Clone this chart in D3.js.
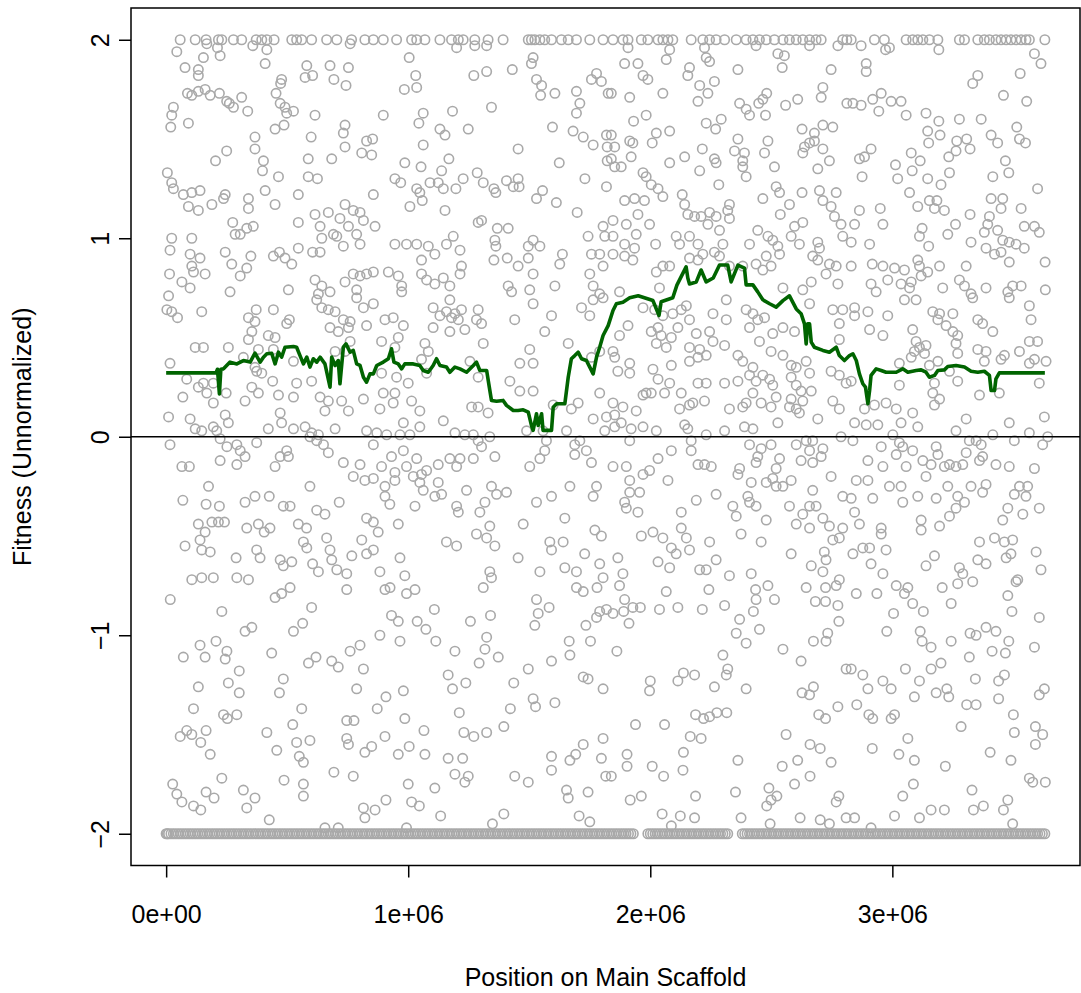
<!DOCTYPE html>
<html><head><meta charset="utf-8">
<script src="https://cdn.jsdelivr.net/npm/d3@7"></script>
<style>body{margin:0;background:#fff;} text{font-family:"Liberation Sans",Arial,Helvetica,sans-serif;}</style>
</head><body><svg id="c" width="1081" height="993"></svg>
<script>
// ---------- data ----------
const xTicks = [0, 1e6, 2e6, 3e6];
const xTickLabels = ["0e+00", "1e+06", "2e+06", "3e+06"];
const yTicks = [-2, -1, 0, 1, 2];
const xTitle = "Position on Main Scaffold";
const yTitle = "Fitness (Unnormalized)";
const xLimitsMb = [0, 3.63];
const yLimits = [-2, 2];

// positions (Mb) of points whose fitness is capped at +2
const capTopMb = [0.058,0.120,0.165,0.216,0.230,0.278,0.312,0.372,0.395,0.416,0.446,0.519,0.539,0.560,0.601,0.663,0.705,0.766,0.821,
0.856,0.897,0.952,1.014,1.035,1.069,1.131,1.179,1.207,1.227,1.275,1.330,1.392,1.496,1.509,1.523,1.544,1.564,1.592,1.633,1.661,1.695,1.750,1.805,
1.846,1.887,1.908,1.963,1.990,2.032,2.052,2.073,2.093,2.169,2.217,2.245,2.272,2.307,2.355,2.396,2.424,2.451,2.479,2.513,2.548,2.575,2.603,2.630,2.658,2.685,2.706,2.795,2.812,
2.830,2.926,2.967,3.057,3.084,3.105,3.126,3.153,3.188,3.277,3.298,3.353,3.380,3.401,3.428,3.449,3.470,3.490,3.511,3.532,3.552,3.566,3.63];

// positions (Mb) of points whose fitness is capped at -2
const capBottomMb = [0.00,0.01,0.03,0.05,0.06,0.08,0.10,0.12,0.13,0.15,0.17,0.19,0.21,0.22,0.24,0.26,0.28,0.29,0.31,0.33,0.35,0.37,0.38,0.40,0.42,0.44,0.45,0.47,0.49,0.51,0.53,0.54,0.56,0.58,0.60,0.61,0.63,0.65,0.67,0.69,0.70,0.72,0.74,0.76,0.77,0.79,0.81,0.83,0.85,0.86,0.88,0.90,0.92,0.93,0.95,0.97,0.99,1.01,1.02,1.04,1.06,1.08,1.09,1.11,1.13,1.15,1.17,1.18,1.20,1.22,1.24,1.25,1.27,1.29,1.31,1.33,1.34,1.36,1.38,1.40,1.41,1.43,1.45,1.47,1.49,1.50,1.52,1.54,1.56,1.57,1.59,1.61,1.63,1.65,1.66,1.68,1.70,1.72,1.73,1.75,1.77,1.79,1.81,1.82,1.84,1.86,1.88,1.89,1.91,1.93,
1.99,2.00,2.02,2.04,2.06,2.07,2.09,2.11,2.13,2.15,2.16,2.18,2.20,2.22,2.23,2.25,2.27,2.29,2.31,2.32,
2.38,2.40,2.42,2.43,2.45,2.47,2.49,2.50,2.52,2.54,2.56,2.58,2.59,2.61,2.63,2.65,2.66,2.68,2.70,2.72,2.74,2.75,2.77,2.79,2.81,2.82,2.84,2.86,2.88,2.90,2.91,2.93,2.95,2.97,2.98,3.00,3.02,3.04,3.06,3.07,3.09,3.11,3.13,3.14,3.16,3.18,3.20,3.22,3.23,3.25,3.27,3.29,3.30,3.32,3.34,3.36,3.38,3.39,3.41,3.43,3.45,3.46,3.48,3.50,3.52,3.54,3.55,3.57,3.59,3.61,3.63];
const capBottomMb2 = [0.005,0.02,0.04,0.07,0.09,0.11,0.14,0.16,0.18,0.20,0.23,0.25,0.27,0.30,0.32,0.34,0.36,0.39,0.41,0.43,0.46,0.48,0.50,0.52,0.55,0.57,0.59,0.62,0.64,0.66,0.68,0.71,0.73,0.75,0.78,0.80,0.82,0.84,0.87,0.89,0.91,0.94,0.96,0.98,1.00,1.03,1.05,1.07,1.10,1.12,1.14,1.16,1.19,1.21,1.23,1.26,1.28,1.30,1.32,1.35,1.37,1.39,1.42,1.44,1.46,1.48,1.51,1.53,1.55,1.58,1.60,1.62,1.64,1.67,1.69,1.71,1.74,1.76,1.78,1.80,1.83,1.85,1.87,1.90,1.92,
2.01,2.03,2.05,2.08,2.10,2.12,2.14,2.17,2.19,2.21,2.24,2.26,2.28,2.30,
2.39,2.41,2.44,2.46,2.48,2.51,2.53,2.55,2.57,2.60,2.62,2.64,2.67,2.69,2.71,2.73,2.76,2.78,2.80,2.83,2.85,2.87,2.89,2.92,2.94,2.96,2.99,3.01,3.03,3.05,3.08,3.10,3.12,3.15,3.17,3.19,3.21,3.24,3.26,3.28,3.31,3.33,3.35,3.37,3.40,3.42,3.44,3.47,3.49,3.51,3.53,3.56,3.58,3.60,3.62];

// [position Mb, fitness] points, by region
const upperA = [[0.044,1.94],[0.168,1.98],[0.212,1.96],[0.223,1.92],[0.154,1.91],[0.358,1.97],[0.416,1.95],[0.409,1.88],[0.760,1.98],
[0.078,1.86],[0.133,1.85],[0.133,1.82],[0.581,1.87],[0.574,1.81],[0.605,1.82],[0.677,1.87],[0.693,1.80],[0.753,1.86],[0.743,1.77],[0.477,1.80],[0.473,1.78],[0.454,1.73],[0.471,1.68],[0.491,1.66],[0.498,1.63],[0.526,1.64],[0.487,1.57],[0.450,1.55],
[0.030,1.66],[0.023,1.62],[0.019,1.56],[0.092,1.58],[0.088,1.73],[0.106,1.72],[0.133,1.74],[0.161,1.75],[0.182,1.72],[0.220,1.73],[0.250,1.69],[0.261,1.68],[0.278,1.66],[0.312,1.71],[0.337,1.64],[0.615,1.62],[0.739,1.57],[0.732,1.53],[0.599,1.51],[0.367,1.51],[0.367,1.45],[0.250,1.44],[0.204,1.39],[0.402,1.39],[0.398,1.34],[0.464,1.31],[0.587,1.40],[0.684,1.40],[0.739,1.46],[0.808,1.43],[0.828,1.49],[0.005,1.33],[0.023,1.28],[0.030,1.25],[0.071,1.22],[0.106,1.23],[0.140,1.24],[0.092,1.16],[0.133,1.14],[0.189,1.17],[0.244,1.22],[0.237,1.20],[0.340,1.20],[0.340,1.15],[0.409,1.24],[0.450,1.17],[0.546,1.22],[0.587,1.31],[0.625,1.30],[0.546,1.08],[0.615,1.12],[0.636,1.06],[0.670,1.13],[0.718,1.10],[0.739,1.17],[0.773,1.14],[0.801,1.13],[0.815,1.09],[0.753,1.06],[0.787,1.02],[0.691,1.02],[0.705,1.01],[0.732,0.96],[0.801,0.97],[0.643,1.00],[0.605,0.93],[0.636,0.93],[0.546,0.95],[0.275,1.08],[0.285,1.02],[0.306,1.02],[0.333,1.05],[0.360,1.06],[0.023,1.00],[0.106,1.00],[0.016,0.94],[0.099,0.92],[0.140,0.90],[0.106,0.86],[0.113,0.83],[0.161,0.82],[0.014,0.82],[0.065,0.78],[0.099,0.75],[0.010,0.71],[0.244,0.93],[0.271,0.87],[0.350,0.91],[0.333,0.85],[0.306,0.81],[0.443,0.91],[0.468,0.93],[0.491,0.90],[0.519,0.87],[0.264,0.73],[0.505,0.74],[0.615,0.79],[0.643,0.76],[0.677,0.73],[0.739,0.78],[0.773,0.82],[0.801,0.81],[0.828,0.82],[0.787,0.74],[0.629,0.72]];

const upperB = [[1.200,1.96],[1.275,1.97],[1.324,1.97],[1.004,1.91],[1.516,1.91],[1.509,1.88],[1.430,1.85],[1.324,1.84],[1.271,1.82],[1.031,1.82],[1.035,1.76],[0.984,1.75],[1.530,1.80],[1.551,1.77],[1.547,1.72],[1.606,1.73],[1.695,1.74],[1.709,1.68],[1.695,1.63],[1.757,1.80],[1.778,1.83],[1.798,1.79],[1.826,1.73],
[0.897,1.62],[1.062,1.63],[1.044,1.58],[1.183,1.64],[1.344,1.66],[1.131,1.55],[1.152,1.52],[1.248,1.55],[1.062,1.47],[0.853,1.50],[0.849,1.42],[1.596,1.56],[1.681,1.54],[1.723,1.51],[1.764,1.47],[1.819,1.52],[1.822,1.46],[1.822,1.39],[1.454,1.45],[1.624,1.38],[1.730,1.30],[1.819,1.26],
[1.168,1.40],[0.986,1.38],[1.053,1.36],[1.138,1.34],[0.945,1.30],[0.969,1.28],[1.035,1.25],[1.048,1.23],[1.090,1.28],[1.124,1.28],[1.145,1.25],[1.197,1.25],[1.227,1.30],[1.285,1.33],[1.310,1.28],[1.354,1.25],[1.362,1.23],[1.406,1.29],[1.434,1.26],[1.454,1.30],[1.458,1.26],[1.555,1.24],[1.530,1.20],[1.612,1.18],[1.007,1.16],[1.058,1.19],[1.152,1.14],[1.698,1.13],[0.856,1.22],
[0.863,1.06],[1.289,1.08],[1.303,1.09],[1.368,1.05],[1.413,1.05],[1.358,0.99],[1.362,0.96],[1.354,0.89],[1.409,0.90],[1.454,0.86],[1.496,0.96],[1.516,0.99],[1.544,0.96],[1.496,0.90],[1.516,0.82],[1.637,0.92],[1.626,0.87],[1.743,1.01],[1.805,1.06],[1.812,1.01],[1.757,0.92],[1.791,0.92],[1.805,0.86],[1.750,0.82],[0.945,0.97],[0.993,0.97],[1.035,0.97],[1.083,0.96],[1.110,0.92],[1.158,0.97],[1.186,1.01],[1.214,0.94],[1.055,0.89],[1.055,0.82],[1.076,0.79],[1.110,0.77],[1.145,0.80],[1.172,0.76],[1.220,0.86],[1.214,0.82],[0.918,0.83],[0.959,0.81],[0.856,0.83],[0.973,0.76],[0.973,0.73],[1.413,0.76],[1.427,0.73],[1.502,0.74],[1.606,0.76],[1.764,0.76],[1.791,0.72]];

const upperC = [[1.908,1.96],[2.080,1.95],[2.066,1.90],[2.224,1.96],[2.231,1.91],[2.245,1.89],[2.437,1.97],[2.527,1.93],[2.554,1.92],[2.658,1.97],[2.775,1.97],[1.894,1.88],[1.949,1.88],[1.970,1.82],[1.990,1.80],[2.162,1.86],[2.155,1.82],[2.265,1.79],[2.204,1.77],[2.238,1.73],[2.197,1.69],[2.362,1.85],[2.545,1.86],[2.747,1.85],[2.713,1.76],[2.706,1.71],[1.839,1.73],[1.915,1.71],[2.052,1.73],[2.369,1.68],[2.396,1.65],[2.410,1.62],[2.448,1.68],[2.465,1.70],[2.481,1.73],[2.476,1.62],[2.559,1.67],[2.609,1.70],[2.812,1.68],[1.983,1.62],[1.931,1.59],[2.231,1.58],[2.270,1.55],[2.293,1.60],[2.080,1.54],[2.025,1.53],[2.008,1.48],[1.915,1.49],[1.928,1.48],[1.839,1.52],[1.853,1.46],[1.839,1.40],[1.853,1.36],[1.880,1.36],[1.921,1.41],[2.142,1.41],[2.215,1.45],[2.265,1.40],[2.272,1.38],[2.204,1.34],[2.080,1.38],[2.348,1.44],[2.362,1.50],[2.389,1.43],[2.382,1.39],[2.382,1.36],[2.396,1.31],[2.472,1.43],[2.486,1.49],[2.513,1.36],[2.627,1.55],[2.678,1.53],[2.713,1.57],[2.754,1.56],[2.637,1.46],[2.630,1.43],[2.658,1.48],[2.678,1.49],[2.713,1.45],[2.740,1.39],[2.692,1.35],[1.970,1.33],[1.983,1.31],[2.004,1.27],[2.032,1.25],[2.052,1.21],[2.132,1.22],[2.283,1.27],[2.520,1.26],[2.534,1.23],[2.575,1.17],[2.627,1.23],[2.699,1.24],[2.768,1.23],[2.713,1.19],[2.747,1.16],[2.761,1.11],[2.788,1.07],[2.795,1.01],[2.465,1.20],[2.327,1.17],[2.320,1.14],[2.327,1.10],[2.537,1.12],[1.894,1.19],[1.935,1.20],[1.976,1.19],[1.949,1.12],[1.997,1.07],[1.846,1.09],[1.901,1.07],[1.942,1.02],[1.846,1.01],[1.894,0.97],[1.935,0.95],[1.846,0.92],[1.894,0.91],[1.928,0.89],[2.142,1.17],[2.155,1.12],[2.183,1.11],[2.210,1.11],[2.245,1.13],[2.272,1.11],[2.238,1.07],[2.286,1.04],[2.107,1.01],[2.121,0.97],[2.162,1.01],[2.197,0.97],[2.217,0.92],[2.162,0.90],[2.197,0.89],[2.265,0.93],[2.300,0.97],[2.286,0.91],[2.022,0.97],[2.444,1.04],[2.410,0.97],[2.486,1.01],[2.506,0.99],[2.527,0.96],[2.534,0.92],[2.479,0.91],[2.437,0.87],[2.465,0.84],[2.499,0.86],[2.582,1.01],[2.616,0.97],[2.630,1.08],[2.596,1.06],[2.692,0.98],[2.699,0.95],[2.671,0.91],[2.692,0.89],[2.740,0.87],[2.768,0.86],[2.726,0.82],[2.775,0.77],[2.025,0.83],[2.052,0.86],[2.080,0.86],[2.038,0.75],[2.327,0.86],[2.382,0.86],[2.548,0.75],[2.630,0.74],[2.665,0.78],[1.873,0.73]];

const upperD = [[2.871,1.97],[2.972,1.95],[2.988,1.96],[3.192,1.95],[2.892,1.88],[2.892,1.84],[3.587,1.93],[3.614,1.88],[3.353,1.82],[3.332,1.78],[3.528,1.83],[3.459,1.72],[3.555,1.69],
[2.837,1.68],[2.871,1.67],[2.919,1.70],[2.954,1.73],[2.944,1.64],[2.995,1.69],[3.036,1.69],[3.057,1.62],[3.139,1.63],[3.192,1.59],[3.146,1.54],[3.197,1.52],[3.150,1.48],[3.277,1.60],[3.367,1.60],[3.266,1.49],[3.307,1.50],[3.321,1.45],[3.263,1.44],[3.233,1.41],[3.408,1.52],[3.435,1.48],[3.514,1.56],[3.525,1.50],[3.550,1.48],[2.864,1.40],[2.885,1.41],[2.912,1.45],[2.875,1.31],[3.013,1.37],[3.022,1.30],[3.078,1.43],[3.115,1.39],[3.082,1.34],[3.146,1.30],[3.201,1.27],[3.236,1.33],[3.467,1.39],[3.415,1.31],[3.481,1.33],[3.600,1.25],[3.071,1.23],[3.105,1.16],[3.153,1.19],[3.184,1.19],[3.174,1.15],[3.215,1.14],[3.408,1.20],[3.456,1.20],[3.449,1.15],[3.532,1.15],[3.321,1.12],[2.864,1.14],[2.950,1.15],[2.961,1.07],[2.844,1.07],[2.830,0.98],[2.906,0.97],[3.123,1.05],[3.112,1.01],[3.150,0.96],[3.261,1.07],[3.229,1.02],[3.401,1.11],[3.394,1.07],[3.380,1.03],[3.435,1.04],[3.456,0.99],[3.483,0.98],[3.325,0.98],[3.387,0.95],[3.422,0.92],[3.449,0.93],[3.483,0.88],[3.511,0.97],[3.545,0.95],[3.545,1.06],[3.587,1.06],[3.607,1.03],[3.631,0.88],[2.830,0.86],[2.917,0.87],[2.961,0.86],[3.009,0.85],[3.050,0.84],[3.105,0.89],[3.112,0.86],[3.146,0.83],[3.119,0.81],[3.195,0.86],[3.305,0.86],[2.912,0.77],[2.933,0.73],[2.981,0.79],[3.036,0.77],[3.078,0.78],[3.071,0.75],[3.208,0.75],[3.277,0.79],[3.298,0.76],[3.325,0.72],[3.387,0.75],[3.477,0.73],[3.497,0.76],[3.532,0.76],[3.632,0.74]];

const middleA = [[0.003,0.64],[0.023,0.63],[0.047,0.60],[0.147,0.63],[0.340,0.60],[0.372,0.64],[0.367,0.58],[0.443,0.64],[0.498,0.57],[0.509,0.59],[0.354,0.53],[0.340,0.49],[0.422,0.51],[0.450,0.50],[0.120,0.45],[0.154,0.45],[0.257,0.45],[0.319,0.40],[0.381,0.44],[0.443,0.44],[0.622,0.69],[0.643,0.65],[0.670,0.64],[0.698,0.63],[0.732,0.59],[0.760,0.58],[0.677,0.55],[0.711,0.53],[0.753,0.55],[0.760,0.48],[0.698,0.43],[0.739,0.43],[0.787,0.70],[0.815,0.65],[0.828,0.56],
[0.016,0.37],[0.367,0.35],[0.374,0.33],[0.395,0.32],[0.526,0.38],[0.085,0.29],[0.133,0.25],[0.154,0.27],[0.195,0.27],[0.168,0.22],[0.069,0.20],[0.248,0.22],[0.195,0.17],[0.326,0.18],[0.354,0.25],[0.381,0.22],[0.440,0.28],[0.464,0.21],[0.526,0.20],[0.539,0.27],[0.601,0.28],[0.636,0.20],[0.670,0.18],[0.656,0.13],[0.725,0.18],[0.753,0.13],[0.815,0.19],[0.010,0.10],[0.099,0.09],[0.120,0.04],[0.147,0.03],[0.244,0.11],[0.257,0.07],[0.195,0.05],[0.209,0.03],[0.471,0.12],[0.477,0.07],[0.422,0.04],[0.526,0.04],[0.574,0.05],[0.601,0.02],[0.629,0.01],[0.698,0.04],[0.828,0.03],
[0.016,-0.04],[0.223,-0.01],[0.251,-0.05],[0.292,-0.04],[0.306,-0.07],[0.326,-0.10],[0.292,-0.14],[0.223,-0.12],[0.374,-0.03],[0.498,-0.07],[0.471,-0.10],[0.505,-0.10],[0.450,-0.15],[0.594,0.00],[0.622,-0.02],[0.650,-0.04],[0.670,-0.08],[0.732,-0.13],[0.801,-0.14],[0.773,-0.20],[0.821,-0.22],[0.065,-0.15],[0.096,-0.15],[0.175,-0.25],[0.594,-0.25],[0.069,-0.32],[0.165,-0.34],[0.220,-0.35],[0.326,-0.33],[0.367,-0.30],[0.426,-0.30],[0.484,-0.35],[0.512,-0.35],[0.622,-0.37],[0.656,-0.39],[0.715,-0.33],[0.828,-0.41],[0.133,-0.44],[0.161,-0.48],[0.189,-0.43],[0.216,-0.43],[0.241,-0.43],[0.333,-0.46],[0.381,-0.44],[0.405,-0.48],[0.429,-0.46],[0.546,-0.44],[0.580,-0.46],[0.567,-0.53],[0.581,-0.56],[0.663,-0.51],[0.677,-0.57],[0.808,-0.52],[0.078,-0.55],[0.140,-0.52],[0.147,-0.57],[0.182,-0.58],[0.289,-0.61],[0.374,-0.57],[0.388,-0.61],[0.471,-0.62],[0.484,-0.65],[0.519,-0.63],[0.605,-0.64],[0.629,-0.68],[0.684,-0.62],[0.705,-0.67],[0.746,-0.69],[0.767,-0.60],[0.828,-0.59],[0.106,-0.72],[0.147,-0.71],[0.195,-0.71],[0.292,-0.71],[0.340,-0.72]];

const middleB = [[0.856,0.67],[0.904,0.59],[0.938,0.60],[0.980,0.56],[0.890,0.48],[0.959,0.50],[0.945,0.45],[1.103,0.65],[1.131,0.61],[1.172,0.69],[1.158,0.63],[1.179,0.60],[1.193,0.62],[1.207,0.59],[1.220,0.64],[1.103,0.55],[1.172,0.53],[1.234,0.54],[1.289,0.64],[1.282,0.59],[1.303,0.57],[1.069,0.47],[1.083,0.43],[1.055,0.39],[1.310,0.47],[1.516,0.67],[1.592,0.61],[1.440,0.59],[1.564,0.53],[1.502,0.44],[1.661,0.47],[1.716,0.65],[1.750,0.61],[1.764,0.69],[1.805,0.70],[1.791,0.43],[1.757,0.40],[1.461,0.37],[1.516,0.37],[1.255,0.38],[0.890,0.32],[0.952,0.30],[1.000,0.27],[1.076,0.32],[1.289,0.30],[1.420,0.28],[1.461,0.23],[1.516,0.23],[0.897,0.22],[0.945,0.22],[1.014,0.18],[1.048,0.13],[0.938,0.17],[0.883,0.14],[1.262,0.15],[1.289,0.15],[1.330,0.12],[1.145,0.08],[0.980,0.07],[1.048,0.05],[0.870,0.02],[0.911,0.01],[0.966,0.01],[1.007,0.01],[1.193,0.02],[1.234,0.01],[1.269,0.01],[1.337,0.00],[1.489,0.03],[1.557,0.03],[1.599,0.16],[1.674,0.14],[1.702,0.17],[1.791,0.22],[1.764,0.09],[1.819,0.10],[1.812,0.03],[1.654,0.03],
[0.856,-0.04],[0.931,-0.10],[0.980,-0.07],[1.035,-0.11],[0.890,-0.15],[0.945,-0.18],[0.993,-0.15],[1.021,-0.20],[1.055,-0.19],[1.076,-0.17],[1.124,-0.14],[1.172,-0.11],[1.214,-0.11],[1.200,-0.15],[1.269,-0.11],[1.303,-0.05],[1.358,-0.10],[1.289,-0.02],[1.502,-0.15],[1.544,-0.11],[1.564,-0.07],[1.571,-0.02],[1.688,-0.04],[1.709,-0.02],[1.736,-0.07],[1.757,-0.13],[1.688,-0.09],[0.856,-0.21],[0.904,-0.25],[0.904,-0.30],[0.924,-0.34],[0.945,-0.22],[1.048,-0.23],[1.062,-0.27],[1.110,-0.30],[1.124,-0.23],[1.138,-0.29],[1.241,-0.27],[1.028,-0.35],[1.200,-0.35],[1.207,-0.38],[1.296,-0.38],[1.317,-0.33],[1.344,-0.25],[1.365,-0.29],[1.406,-0.28],[1.530,-0.33],[1.592,-0.30],[1.668,-0.25],[1.764,-0.30],[1.778,-0.25],[0.856,-0.43],[0.876,-0.48],[0.959,-0.44],[1.158,-0.53],[1.200,-0.55],[1.282,-0.49],[1.324,-0.51],[1.337,-0.45],[1.358,-0.55],[1.475,-0.44],[1.647,-0.41],[1.585,-0.53],[1.592,-0.57],[1.640,-0.53],[1.729,-0.59],[1.771,-0.47],[1.798,-0.50],[0.856,-0.57],[0.966,-0.61],[0.883,-0.68],[0.986,-0.70],[1.337,-0.68],[1.344,-0.71],[1.454,-0.61],[1.544,-0.68],[1.647,-0.66],[1.695,-0.68],[1.791,-0.64],[1.805,-0.71]];

const middleC = [[1.908,0.56],[1.873,0.51],[1.846,0.43],[1.853,0.40],[1.970,0.65],[2.018,0.64],[2.052,0.61],[2.093,0.62],[2.128,0.64],[2.149,0.66],[2.162,0.59],[2.114,0.55],[2.087,0.50],[2.066,0.45],[2.032,0.55],[2.004,0.53],[2.045,0.51],[2.025,0.47],[2.190,0.52],[2.245,0.53],[2.259,0.48],[2.162,0.45],[2.204,0.44],[2.314,0.69],[2.259,0.62],[2.314,0.59],[2.307,0.46],[2.396,0.64],[2.424,0.62],[2.444,0.59],[2.472,0.60],[2.410,0.55],[2.451,0.48],[2.506,0.52],[2.548,0.55],[2.596,0.53],[2.658,0.67],[2.754,0.64],[2.795,0.64],[2.781,0.57],[2.781,0.49],[2.644,0.38],[2.603,0.35],[2.582,0.36],[2.548,0.41],[2.499,0.43],[2.362,0.41],[2.382,0.38],[2.424,0.35],[1.915,0.37],[1.866,0.33],[1.915,0.32],[2.011,0.34],[2.032,0.29],[2.087,0.36],[2.080,0.27],[2.162,0.38],[2.197,0.40],[2.231,0.41],[2.197,0.27],[2.231,0.27],[2.307,0.27],[2.362,0.28],[2.410,0.31],[2.437,0.28],[2.465,0.31],[2.493,0.29],[2.506,0.26],[2.582,0.30],[2.603,0.26],[2.658,0.32],[2.623,0.23],[2.665,0.23],[2.747,0.33],[2.781,0.31],[2.809,0.27],[1.970,0.21],[1.983,0.22],[2.004,0.22],[2.059,0.22],[1.846,0.17],[1.887,0.15],[1.942,0.13],[2.128,0.22],[2.176,0.17],[2.162,0.16],[2.224,0.18],[2.121,0.14],[2.327,0.14],[2.382,0.15],[2.424,0.22],[2.396,0.17],[2.458,0.17],[2.499,0.15],[2.520,0.20],[2.582,0.19],[2.630,0.18],[2.603,0.14],[2.616,0.12],[2.575,0.15],[2.754,0.18],[2.781,0.14],[1.853,0.11],[1.880,0.07],[1.853,0.05],[1.921,0.04],[1.970,0.05],[2.025,0.03],[2.142,0.06],[2.155,0.04],[2.231,0.01],[2.307,0.03],[2.389,0.05],[2.424,0.04],[2.527,0.07],[2.692,0.09],[2.788,0.00],[2.644,-0.02],
[1.915,-0.02],[1.846,-0.15],[1.901,-0.15],[1.970,-0.19],[1.997,-0.17],[2.032,-0.11],[2.087,-0.07],[2.169,-0.02],[2.169,-0.07],[2.197,-0.14],[2.224,-0.14],[2.252,-0.15],[2.410,-0.04],[2.458,-0.06],[2.499,-0.04],[2.444,-0.10],[2.437,-0.13],[2.534,-0.11],[2.520,-0.16],[2.369,-0.16],[2.362,-0.19],[2.603,-0.04],[2.658,-0.07],[2.671,-0.02],[2.713,-0.06],[2.706,-0.10],[2.671,-0.13],[2.623,-0.12],[2.747,-0.20],[1.915,-0.22],[1.915,-0.28],[1.956,-0.28],[1.894,-0.33],[1.901,-0.36],[1.949,-0.38],[2.073,-0.22],[2.190,-0.32],[2.272,-0.29],[2.417,-0.23],[2.479,-0.23],[2.506,-0.21],[2.520,-0.25],[2.548,-0.25],[2.582,-0.22],[2.403,-0.30],[2.410,-0.33],[2.437,-0.35],[2.341,-0.35],[2.355,-0.40],[2.479,-0.42],[2.575,-0.35],[2.671,-0.27],[2.630,-0.39],[2.658,-0.35],[2.685,-0.35],[2.603,-0.44],[2.658,-0.46],[2.713,-0.41],[2.740,-0.45],[2.795,-0.30],[2.795,-0.46],[2.781,-0.51],[2.754,-0.52],[2.128,-0.38],[2.128,-0.46],[2.149,-0.51],[2.162,-0.57],[2.245,-0.53],[2.375,-0.49],[2.458,-0.53],[1.963,-0.50],[2.011,-0.48],[2.052,-0.51],[2.087,-0.56],[2.107,-0.59],[1.866,-0.61],[2.032,-0.63],[2.080,-0.66],[2.204,-0.67],[2.231,-0.67],[2.272,-0.62],[2.327,-0.70],[2.417,-0.69],[2.582,-0.59],[2.665,-0.65],[2.719,-0.58],[2.726,-0.62],[2.713,-0.68],[2.781,-0.72],[1.887,-0.69]];

const middleD = [[3.050,0.69],[3.098,0.69],[2.844,0.65],[2.844,0.61],[2.899,0.63],[2.981,0.61],[3.167,0.63],[3.195,0.62],[3.250,0.62],[3.188,0.59],[3.222,0.56],[3.332,0.70],[3.483,0.70],[3.566,0.66],[3.573,0.59],[3.353,0.59],[3.373,0.57],[3.415,0.53],[2.906,0.54],[2.961,0.51],[3.084,0.54],[3.098,0.48],[3.250,0.53],[3.270,0.51],[3.263,0.47],[3.112,0.45],[3.139,0.46],[3.091,0.43],[3.133,0.42],[3.078,0.40],[3.188,0.38],[3.270,0.42],[3.353,0.44],[3.387,0.43],[3.380,0.38],[3.463,0.41],[3.449,0.39],[3.525,0.43],[3.566,0.48],[3.600,0.48],[3.587,0.39],[3.635,0.38],[3.566,0.37],[3.029,0.37],[3.153,0.36],[3.236,0.33],[2.830,0.28],[3.029,0.26],[3.174,0.27],[3.167,0.22],[3.195,0.19],[3.174,0.16],[3.270,0.28],[3.360,0.21],[3.442,0.22],[3.607,0.27],[2.926,0.16],[2.974,0.17],[3.016,0.14],[3.084,0.12],[2.885,0.14],[2.844,0.07],[2.892,0.06],[2.940,0.06],[3.036,0.07],[3.105,0.05],[3.305,0.09],[3.263,0.03],[3.483,0.07],[3.628,0.10],[3.566,0.02],[3.415,0.01],[3.002,0.01],
[2.837,-0.02],[3.029,-0.03],[3.043,-0.05],[3.084,-0.07],[2.954,-0.05],[3.016,-0.09],[2.899,-0.12],[2.961,-0.15],[3.057,-0.15],[3.126,-0.12],[3.181,-0.05],[3.188,-0.09],[3.160,-0.14],[3.215,-0.15],[3.236,-0.14],[3.263,-0.15],[3.291,-0.14],[3.318,-0.02],[3.346,-0.02],[3.367,-0.04],[3.305,-0.08],[3.360,-0.12],[3.373,-0.10],[3.428,-0.14],[3.483,-0.15],[3.504,-0.02],[3.621,-0.04],[3.642,0.00],[3.587,-0.16],[2.851,-0.22],[2.899,-0.22],[3.139,-0.20],[3.229,-0.25],[3.325,-0.25],[3.387,-0.24],[3.373,-0.28],[2.988,-0.25],[3.036,-0.25],[2.919,-0.31],[3.043,-0.33],[3.105,-0.30],[3.181,-0.31],[3.270,-0.30],[3.298,-0.33],[3.504,-0.29],[3.525,-0.25],[3.559,-0.25],[3.552,-0.30],[2.830,-0.31],[2.844,-0.38],[2.864,-0.44],[3.119,-0.42],[3.119,-0.47],[3.195,-0.45],[3.236,-0.40],[3.263,-0.36],[3.456,-0.42],[3.477,-0.36],[3.539,-0.39],[3.607,-0.36],[2.954,-0.46],[2.954,-0.49],[3.422,-0.51],[3.463,-0.53],[3.497,-0.52],[3.360,-0.53],[2.878,-0.56],[2.906,-0.56],[2.974,-0.57],[2.837,-0.59],[3.174,-0.60],[3.139,-0.65],[3.353,-0.62],[3.387,-0.64],[3.470,-0.61],[3.490,-0.59],[3.594,-0.58],[3.614,-0.67],[2.912,-0.64],[2.961,-0.69],[3.277,-0.66],[3.291,-0.69],[3.518,-0.72]];

const lowerA = [[0.017,-0.82],[0.230,-0.88],[0.450,-0.81],[0.477,-0.79],[0.512,-0.76],[0.601,-0.86],[0.746,-0.77],[0.326,-0.98],[0.354,-0.96],[0.526,-0.98],[0.564,-0.94],[0.140,-1.05],[0.206,-1.03],[0.071,-1.11],[0.161,-1.11],[0.244,-1.12],[0.251,-1.08],[0.436,-1.09],[0.588,-1.14],[0.619,-1.11],[0.684,-1.13],[0.711,-1.16],[0.760,-1.08],[0.801,-1.05],[0.815,-1.17],[0.302,-1.18],[0.257,-1.24],[0.302,-1.29],[0.133,-1.26],[0.484,-1.22],[0.468,-1.29],[0.787,-1.27],[0.113,-1.37],[0.237,-1.40],[0.253,-1.42],[0.292,-1.40],[0.560,-1.37],[0.523,-1.45],[0.416,-1.49],[0.457,-1.58],[0.539,-1.54],[0.594,-1.53],[0.550,-1.61],[0.567,-1.64],[0.746,-1.43],[0.776,-1.43],[0.746,-1.52],[0.753,-1.55],[0.821,-1.59],[0.058,-1.51],[0.085,-1.48],[0.106,-1.50],[0.165,-1.48],[0.143,-1.54],[0.182,-1.60],[0.693,-1.69],[0.773,-1.71],[0.230,-1.72],[0.487,-1.73],[0.567,-1.75],[0.567,-1.81],[0.027,-1.75],[0.044,-1.80],[0.065,-1.84],[0.113,-1.86],[0.143,-1.88],[0.165,-1.79],[0.198,-1.82],[0.319,-1.78],[0.367,-1.82],[0.333,-1.87],[0.426,-1.93],[0.815,-1.87],[0.821,-1.92],[0.711,-1.97],[0.656,-1.97]];

const lowerB = [[0.904,-0.77],[0.925,-0.76],[0.993,-0.79],[1.028,-0.77],[1.310,-0.76],[1.530,-0.82],[1.537,-0.89],[1.582,-0.86],[1.523,-0.95],[1.695,-0.76],[1.723,-0.78],[1.780,-0.76],[1.791,-0.88],[1.819,-0.87],[1.778,-0.91],[1.734,-0.95],[1.753,-1.03],[1.665,-1.03],[1.668,-1.10],[1.592,-1.13],[1.496,-1.17],[1.436,-1.24],[1.516,-1.32],[1.526,-1.36],[1.606,-1.34],[1.723,-1.21],[1.743,-1.22],[1.805,-1.27],[0.931,-0.90],[0.959,-0.93],[0.966,-1.03],[0.883,-1.00],[1.037,-0.93],[1.073,-0.97],[1.114,-1.03],[1.108,-0.87],[1.257,-0.93],[1.340,-0.90],[1.324,-1.01],[1.317,-1.07],[1.372,-1.11],[1.293,-1.14],[1.193,-1.08],[1.165,-1.20],[1.183,-1.27],[1.238,-1.24],[0.980,-1.28],[0.908,-1.31],[0.872,-1.37],[0.986,-1.42],[1.065,-1.48],[0.904,-1.51],[1.004,-1.56],[0.959,-1.60],[1.069,-1.60],[0.849,-1.56],[1.211,-1.39],[1.230,-1.49],[1.271,-1.51],[1.324,-1.49],[1.395,-1.46],[1.422,-1.37],[1.165,-1.62],[1.225,-1.62],[1.193,-1.70],[1.248,-1.71],[1.234,-1.74],[1.440,-1.71],[1.496,-1.74],[1.592,-1.61],[1.592,-1.68],[1.668,-1.63],[1.692,-1.60],[1.723,-1.55],[1.805,-1.52],[1.798,-1.62],[1.816,-1.71],[1.654,-1.78],[1.661,-1.82],[1.743,-1.79],[1.706,-1.91],[1.750,-1.94],[1.000,-1.75],[1.110,-1.77],[1.014,-1.84],[1.046,-1.86],[0.908,-1.83],[0.863,-1.88],[1.134,-1.91],[1.395,-1.90],[1.348,-1.95],[0.993,-1.97]];

const lowerC = [[1.873,-0.75],[1.894,-0.82],[1.928,-0.86],[1.959,-0.86],[1.890,-0.88],[1.846,-0.89],[1.912,-0.94],[2.066,-0.78],[2.038,-0.87],[2.114,-0.86],[2.215,-0.87],[2.242,-0.77],[2.307,-0.85],[2.435,-0.77],[2.486,-0.75],[2.437,-0.82],[2.513,-0.82],[2.426,-0.88],[2.369,-0.92],[2.355,-0.99],[2.451,-0.97],[2.396,-1.04],[2.644,-0.76],[2.724,-0.76],[2.768,-0.75],[2.682,-0.83],[2.724,-0.83],[2.775,-0.85],[2.779,-0.93],[2.733,-0.99],[2.674,-1.03],[2.726,-1.03],[2.548,-1.07],[2.623,-1.13],[2.809,-1.17],[1.862,-1.08],[2.300,-1.10],[2.320,-1.17],[2.314,-1.20],[2.265,-1.26],[2.183,-1.20],[2.137,-1.19],[2.114,-1.23],[2.000,-1.23],[1.997,-1.28],[2.396,-1.27],[2.627,-1.29],[2.658,-1.30],[2.674,-1.26],[2.696,-1.40],[2.724,-1.42],[2.775,-1.36],[1.939,-1.45],[2.059,-1.45],[2.187,-1.40],[2.220,-1.42],[2.245,-1.41],[2.275,-1.39],[2.316,-1.39],[2.165,-1.51],[2.210,-1.52],[2.137,-1.59],[2.135,-1.68],[2.055,-1.71],[2.008,-1.66],[1.904,-1.60],[1.904,-1.66],[1.839,-1.71],[2.561,-1.50],[2.660,-1.55],[2.702,-1.57],[2.747,-1.64],[2.362,-1.63],[2.545,-1.66],[2.609,-1.63],[2.660,-1.71],[2.596,-1.75],[2.490,-1.77],[2.523,-1.81],[2.499,-1.83],[2.481,-1.86],[2.352,-1.79],[2.187,-1.81],[1.917,-1.83],[1.963,-1.81],[2.049,-1.90],[2.124,-1.91],[2.183,-1.92],[2.087,-1.96],[2.375,-1.92],[2.495,-1.95],[2.619,-1.92],[2.702,-1.93],[2.740,-1.95],[2.779,-1.81],[2.768,-1.84],[2.809,-1.92]];

const lowerD = [[3.016,-0.75],[3.064,-0.76],[3.050,-0.79],[2.851,-0.79],[2.936,-0.79],[3.206,-0.76],[3.270,-0.74],[3.332,-0.73],[3.511,-0.73],[3.477,-0.80],[3.243,-0.84],[3.084,-0.84],[3.128,-0.88],[3.005,-0.89],[3.494,-0.88],[3.607,-0.91],[2.977,-0.98],[3.115,-0.98],[3.123,-1.03],[3.160,-1.06],[3.243,-1.03],[3.321,-0.99],[3.346,-1.00],[3.387,-0.96],[3.428,-0.98],[3.481,-1.03],[3.412,-1.08],[3.467,-1.09],[3.318,-1.11],[3.587,-1.06],[2.830,-1.17],[2.878,-1.20],[2.899,-1.27],[2.961,-1.23],[2.995,-1.27],[3.054,-1.17],[3.160,-1.17],[3.201,-1.14],[3.112,-1.23],[3.091,-1.31],[3.181,-1.29],[3.225,-1.27],[3.233,-1.31],[3.343,-1.22],[3.439,-1.23],[3.463,-1.20],[3.439,-1.32],[3.307,-1.35],[3.346,-1.35],[2.853,-1.35],[2.903,-1.40],[2.919,-1.42],[2.995,-1.42],[3.009,-1.40],[3.284,-1.46],[3.500,-1.40],[3.504,-1.49],[3.591,-1.46],[3.621,-1.50],[3.628,-1.27],[3.607,-1.30],[3.064,-1.52],[2.917,-1.57],[3.027,-1.60],[3.091,-1.63],[3.219,-1.66],[3.404,-1.59],[3.490,-1.63],[3.591,-1.55],[3.566,-1.72],[3.580,-1.74],[3.632,-1.74],[3.087,-1.75],[3.043,-1.81],[3.329,-1.78],[3.477,-1.83],[3.459,-1.88],[3.335,-1.88],[3.376,-1.86],[3.160,-1.88],[3.215,-1.88],[3.112,-1.92],[3.009,-1.91],[2.844,-1.92],[2.912,-1.97],[3.497,-1.95]];

// running-mean trace (position Mb, fitness)
const trendMb = [0.000,0.206,0.212,0.220,0.226,0.237,0.264,0.292,0.319,0.347,0.367,0.388,0.402,0.416,0.436,0.450,0.464,0.477,0.491,0.526,0.539,0.553,0.567,0.581,0.594,0.608,0.622,0.636,0.656,0.677,0.684,0.698,0.711,0.718,0.732,0.743,0.760,0.773,0.787,0.801,0.815,0.828,0.842,
0.856,0.870,0.897,0.918,0.931,0.941,0.959,0.973,0.986,1.021,1.048,1.062,1.083,1.103,1.117,1.131,1.158,1.172,1.193,1.214,1.241,1.269,1.282,1.296,1.324,1.335,1.344,1.365,1.392,1.406,1.434,1.454,1.475,1.496,1.509,1.516,1.530,1.537,1.551,1.557,1.592,1.599,1.613,1.647,1.661,1.674,1.688,1.702,1.716,1.736,1.750,1.764,1.778,1.791,1.805,1.826,
1.846,1.860,1.887,1.915,1.950,2.011,2.036,2.045,2.093,2.110,2.148,2.155,2.162,2.190,2.210,2.231,2.260,2.286,2.320,2.334,2.362,2.389,2.396,2.424,2.444,2.465,2.493,2.520,2.548,2.575,2.603,2.623,2.637,2.644,2.650,2.658,2.665,2.678,2.713,2.740,2.768,2.781,2.802,
2.823,2.837,2.851,2.864,2.878,2.889,2.899,2.906,2.912,2.933,2.954,2.974,2.995,3.016,3.043,3.064,3.098,3.119,3.139,3.153,3.174,3.188,3.215,3.229,3.263,3.298,3.325,3.353,3.380,3.401,3.408,3.422,3.428,3.442,3.63];
const trendFit = [0.322,0.322,0.340,0.216,0.340,0.342,0.376,0.367,0.384,0.376,0.421,0.376,0.401,0.418,0.421,0.367,0.426,0.401,0.451,0.455,0.451,0.409,0.367,0.401,0.351,0.393,0.376,0.401,0.367,0.250,0.401,0.359,0.384,0.267,0.451,0.468,0.426,0.435,0.367,0.359,0.300,0.275,0.317,
0.317,0.359,0.376,0.393,0.443,0.376,0.367,0.342,0.367,0.367,0.359,0.334,0.325,0.359,0.393,0.359,0.351,0.325,0.351,0.342,0.325,0.359,0.376,0.334,0.334,0.250,0.183,0.179,0.183,0.158,0.132,0.132,0.136,0.124,0.057,0.032,0.116,0.057,0.116,0.032,0.032,0.149,0.166,0.166,0.300,0.393,0.409,0.426,0.393,0.384,0.351,0.317,0.401,0.451,0.510,0.560,
0.636,0.670,0.678,0.700,0.710,0.686,0.611,0.680,0.700,0.764,0.856,0.800,0.770,0.780,0.840,0.780,0.800,0.865,0.865,0.780,0.865,0.850,0.765,0.765,0.730,0.690,0.670,0.653,0.686,0.710,0.644,0.620,0.569,0.468,0.569,0.569,0.477,0.451,0.435,0.426,0.451,0.409,0.384,
0.409,0.418,0.384,0.317,0.267,0.250,0.166,0.233,0.309,0.342,0.334,0.325,0.325,0.325,0.342,0.325,0.334,0.337,0.325,0.300,0.309,0.334,0.337,0.354,0.359,0.351,0.330,0.325,0.330,0.309,0.233,0.233,0.292,0.322,0.322];

// ---------- drawing ----------
const W = 1081, H = 993;
const box = {left: 131, right: 1080, top: 8, bottom: 865.5};
const svg = d3.select("#c");
svg.append("rect").attr("width", W).attr("height", H).attr("fill", "#fff");

const xr = (xLimitsMb[1] - xLimitsMb[0]) * 1e6, yr = yLimits[1] - yLimits[0];
const x = d3.scaleLinear()
  .domain([xLimitsMb[0] * 1e6 - 0.04 * xr, xLimitsMb[1] * 1e6 + 0.04 * xr])
  .range([box.left, box.right]);
const y = d3.scaleLinear()
  .domain([yLimits[0] - 0.04 * yr, yLimits[1] + 0.04 * yr])
  .range([box.bottom, box.top]);

const points = [].concat(
  capTopMb.map(p => [p, 2]),
  capBottomMb.map(p => [p, -2]),
  capBottomMb2.map(p => [p, -2]),
  upperA, upperB, upperC, upperD,
  middleA, middleB, middleC, middleD,
  lowerA, lowerB, lowerC, lowerD
);

svg.append("g").selectAll("circle").data(points).join("circle")
  .attr("cx", d => x(d[0] * 1e6))
  .attr("cy", d => y(d[1]))
  .attr("r", 4.7)
  .attr("fill", "none")
  .attr("stroke", "#a9a9a9")
  .attr("stroke-width", 1.6);

// zero reference line
svg.append("line")
  .attr("x1", box.left).attr("x2", box.right)
  .attr("y1", y(0)).attr("y2", y(0))
  .attr("stroke", "#000").attr("stroke-width", 1.5);

// running mean
const trend = trendMb.map((p, i) => [p * 1e6, trendFit[i]]);
svg.append("path")
  .datum(trend)
  .attr("fill", "none")
  .attr("stroke", "#006400")
  .attr("stroke-width", 3.6)
  .attr("stroke-linejoin", "round")
  .attr("d", d3.line().x(d => x(d[0])).y(d => y(d[1])));

// frame
svg.append("rect")
  .attr("x", box.left).attr("y", box.top)
  .attr("width", box.right - box.left).attr("height", box.bottom - box.top)
  .attr("fill", "none").attr("stroke", "#000").attr("stroke-width", 1.5);

const fsTick = 25, fsTitle = 25;
// x axis
const gx = svg.append("g").attr("transform", `translate(0,${box.bottom})`)
  .call(d3.axisBottom(x).tickValues(xTicks).tickFormat((d, i) => xTickLabels[i]).tickSize(12));
gx.select(".domain").remove();
gx.selectAll("line").attr("stroke", "#000").attr("stroke-width", 1.5);
gx.selectAll("text").attr("y", 49).attr("dy", "0.35em")
  .attr("font-size", fsTick).attr("fill", "#000")
  .attr("font-family", '"Liberation Sans", Arial, sans-serif');

// y axis
const gy = svg.append("g").attr("transform", `translate(${box.left},0)`)
  .call(d3.axisLeft(y).tickValues(yTicks).tickFormat(d3.format("d")).tickSize(12));
gy.select(".domain").remove();
gy.selectAll("line").attr("stroke", "#000").attr("stroke-width", 1.5);
gy.selectAll("text")
  .attr("x", null).attr("dy", "0.35em")
  .attr("transform", "translate(-31,0) rotate(-90)")
  .attr("text-anchor", "middle")
  .attr("font-size", fsTick).attr("fill", "#000")
  .attr("font-family", '"Liberation Sans", Arial, sans-serif');

// titles
svg.append("text")
  .attr("x", (box.left + box.right) / 2).attr("y", 977).attr("dy", "0.35em")
  .attr("text-anchor", "middle").attr("font-size", fsTitle).text(xTitle);
svg.append("text")
  .attr("transform", `translate(22,${(box.top + box.bottom) / 2}) rotate(-90)`)
  .attr("dy", "0.35em")
  .attr("text-anchor", "middle").attr("font-size", fsTitle).text(yTitle);
</script>
</body></html>
